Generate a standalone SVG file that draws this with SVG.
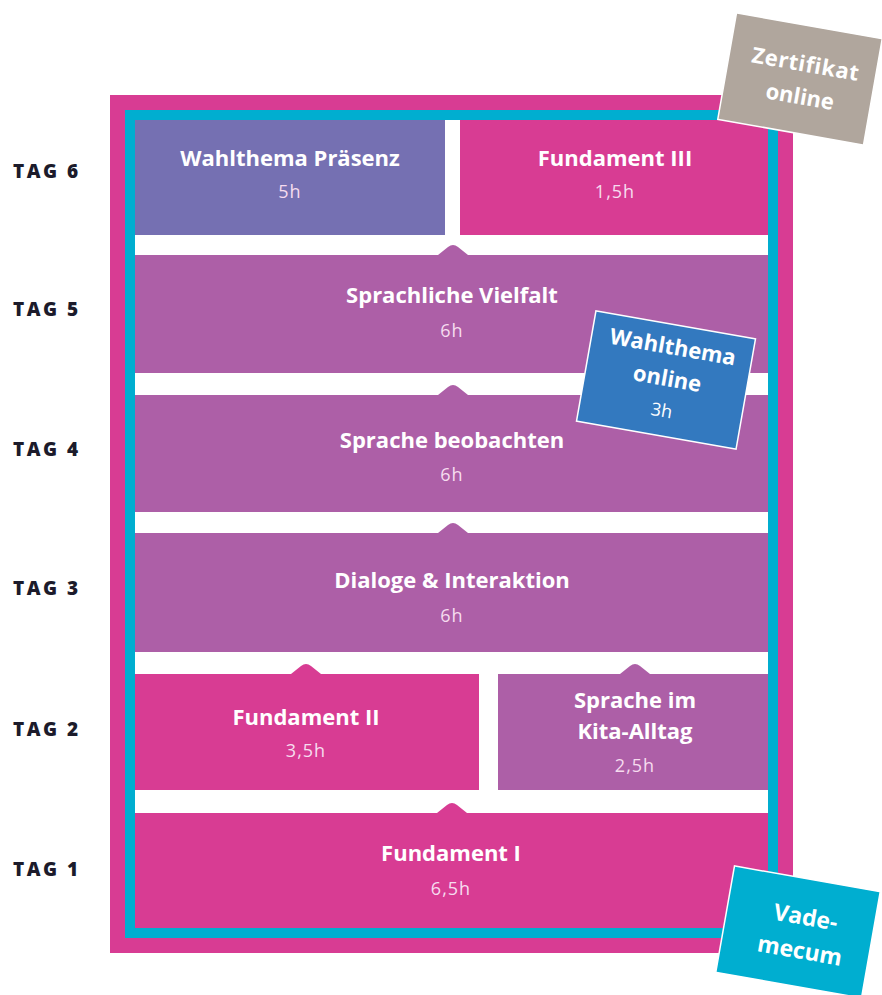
<svg xmlns="http://www.w3.org/2000/svg" width="882" height="995" viewBox="0 0 882 995">
<style>
.t{font-family:"Open Sans","DejaVu Sans",sans-serif;font-weight:700;font-size:22px;fill:#ffffff;text-anchor:middle}
.s{font-family:"Open Sans","DejaVu Sans",sans-serif;font-weight:400;font-size:18px;fill:#f6dcef;text-anchor:middle;letter-spacing:1px}
.tag{font-family:"Open Sans","DejaVu Sans",sans-serif;font-weight:800;font-size:19px;fill:#1c1b2b;letter-spacing:2.5px}
.st{font-family:"Open Sans","DejaVu Sans",sans-serif;font-weight:700;font-size:22px;fill:#ffffff;text-anchor:middle}
.mag{fill:#d83c93}
.pur{fill:#ad5fa7}
.vio{fill:#7570b2}
</style>
<rect width="882" height="995" fill="#ffffff"/>
<g id="frame">
<rect x="110" y="95" width="683" height="858" fill="#d83c93"/>
<rect x="125" y="110" width="653" height="828" fill="#00aed0"/>
<rect x="135" y="120" width="633" height="808" fill="#ffffff"/>
</g>
<g id="tags">
<text class="tag" x="13" y="178">TAG 6</text>
<text class="tag" x="13" y="316">TAG 5</text>
<text class="tag" x="13" y="456">TAG 4</text>
<text class="tag" x="13" y="595">TAG 3</text>
<text class="tag" x="13" y="736">TAG 2</text>
<text class="tag" x="13" y="876">TAG 1</text>
</g>
<g id="wahlthema-praesenz">
<rect class="vio" x="135" y="120" width="310" height="115"/>
<text class="t" x="290" y="166">Wahlthema Präsenz</text>
<text class="s" x="290" y="198">5h</text>
</g>
<g id="fundament-3">
<rect class="mag" x="460" y="120" width="308" height="115"/>
<text class="t" x="615" y="166">Fundament III</text>
<text class="s" x="615" y="198">1,5h</text>
</g>
<g id="sprachliche-vielfalt">
<rect class="pur" x="135" y="255" width="633" height="118"/>
<text class="t" x="452" y="303">Sprachliche Vielfalt</text>
<text class="s" x="452" y="337">6h</text>
</g>
<g id="sprache-beobachten">
<rect class="pur" x="135" y="395" width="633" height="117"/>
<text class="t" x="452" y="448">Sprache beobachten</text>
<text class="s" x="452" y="481">6h</text>
</g>
<g id="dialoge-interaktion">
<rect class="pur" x="135" y="533" width="633" height="119"/>
<text class="t" x="452" y="588">Dialoge &amp; Interaktion</text>
<text class="s" x="452" y="622">6h</text>
</g>
<g id="fundament-2">
<rect class="mag" x="135" y="674" width="344" height="116"/>
<text class="t" x="306" y="725">Fundament II</text>
<text class="s" x="306" y="757">3,5h</text>
</g>
<g id="sprache-kita-alltag">
<rect class="pur" x="498" y="674" width="270" height="116"/>
<text class="t" x="635" y="708">Sprache im</text>
<text class="t" x="635" y="739">Kita-Alltag</text>
<text class="s" x="635" y="772">2,5h</text>
</g>
<g id="fundament-1">
<rect class="mag" x="135" y="813" width="633" height="115"/>
<text class="t" x="451" y="861">Fundament I</text>
<text class="s" x="451" y="895">6,5h</text>
</g>
<g id="connectors">
<path class="pur" d="M438,255 L448,247 Q453,243 458,247 L468,255 Z"/>
<path class="pur" d="M438,395 L448,387 Q453,383 458,387 L468,395 Z"/>
<path class="pur" d="M438,533 L448,525 Q453,521 458,525 L468,533 Z"/>
<path class="mag" d="M291,674 L301,666 Q306,662 311,666 L321,674 Z"/>
<path class="pur" d="M620,674 L630,666 Q635,662 640,666 L650,674 Z"/>
<path class="mag" d="M437,813 L447,805 Q452,801 457,805 L467,813 Z"/>
</g>
<g id="zertifikat-online" transform="translate(800,79) rotate(10)">
<rect x="-74" y="-54" width="148" height="108" fill="#b0a69d" stroke="#ffffff" stroke-width="1.5"/>
<text class="st" x="3" y="-8" style="letter-spacing:0.5px">Zertifikat</text>
<text class="st" x="3" y="25">online</text>
</g>
<g id="wahlthema-online" transform="translate(666,380) rotate(10)">
<rect x="-81" y="-56" width="162" height="112" fill="#3379bf" stroke="#ffffff" stroke-width="1.5"/>
<text class="st" x="1" y="-26">Wahlthema</text>
<text class="st" x="1" y="6">online</text>
<text class="st" x="1" y="37" style="font-size:18px;font-weight:400">3h</text>
</g>
<g id="vademecum" transform="translate(798,932) rotate(10)">
<rect x="-74" y="-54" width="148" height="108" fill="#00aed0" stroke="#ffffff" stroke-width="1.5"/>
<text class="st" x="5" y="-8" style="font-size:23px">Vade-</text>
<text class="st" x="5" y="26" style="font-size:23px">mecum</text>
</g>
</svg>
